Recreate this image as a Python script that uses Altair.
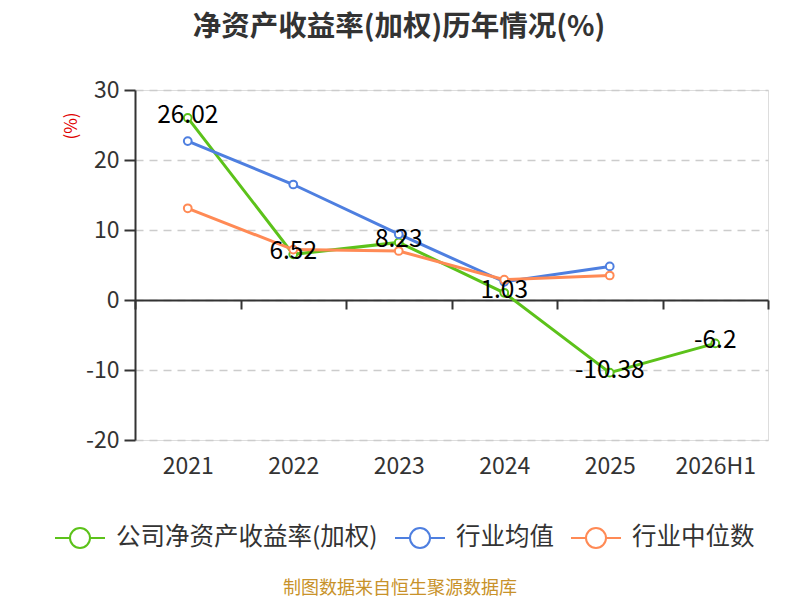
import altair as alt
import pandas as pd

FONT = "Noto Sans CJK SC"

periods = ["2021", "2022", "2023", "2024", "2025", "2026H1"]
company = [26.02, 6.52, 8.23, 1.03, -10.38, -6.2]
ind_avg = [22.7, 16.5, 9.4, 2.6, 4.8, None]
ind_med = [13.1, 7.2, 7.0, 2.9, 3.5, None]

names = ["公司净资产收益率(加权)", "行业均值", "行业中位数"]
colors = ["#5cc21a", "#4e7fe0", "#ff8a55"]

title_text = "净资产收益率(加权)历年情况(%)"
unit_text = "(%)"
source_text = "制图数据来自恒生聚源数据库"

rows = []
for name, vals in zip(names, [company, ind_avg, ind_med]):
    for p, v in zip(periods, vals):
        if v is not None:
            rows.append({"period": p, "value": v, "series": name})
df = pd.DataFrame(rows)
df_comp = df[df["series"] == names[0]].copy()
df_comp["label"] = df_comp["value"].map(lambda v: f"{v:g}")

legend_path = ("M-1,0 L-0.4,0 M0.4,0 L1,0 "
               "M-0.4,0 A0.4,0.4 0 1,1 0.4,0 A0.4,0.4 0 1,1 -0.4,0")

x_enc = alt.X(
    "period:O",
    sort=periods,
    scale=alt.Scale(type="band", paddingInner=0, paddingOuter=0, domain=periods),
    bandPosition=0.5,
    axis=alt.Axis(
        title=None, offset=-140, tickBand="extent", tickSize=9, tickWidth=2,
        tickColor="#333333", domainColor="#333333", domainWidth=2,
        labelFontSize=23, labelColor="#333333", labelPadding=146,
        labelFont=FONT, labelAngle=0, grid=False,
    ),
)
y_enc = alt.Y(
    "value:Q",
    scale=alt.Scale(domain=[-20, 30], nice=False),
    axis=alt.Axis(
        title=None, values=[-20, -10, 0, 10, 20, 30], tickSize=11, tickWidth=2,
        tickColor="#333333", domainColor="#333333", domainWidth=2,
        labelFontSize=23, labelColor="#333333", labelPadding=5, labelFont=FONT,
        labelExpr="'' + datum.value",
        grid=True, gridDash=[8, 6], gridColor="#cccccc", gridWidth=1.5,
    ),
)
color_enc = alt.Color(
    "series:N",
    sort=names,
    scale=alt.Scale(domain=names, range=colors),
    legend=alt.Legend(
        title=None, orient="none", direction="horizontal",
        legendX=-81, legendY=422,
        symbolType=legend_path, symbolSize=2500, symbolStrokeWidth=2,
        symbolFillColor="white", labelFontSize=24.5, labelColor="#333333",
        labelFont=FONT, labelOffset=10, columnPadding=13, labelLimit=400,
    ),
)

base = alt.Chart(df).encode(x=x_enc, y=y_enc, color=color_enc)
lines = base.mark_line(strokeWidth=3)
points = base.mark_point(filled=False, fill="white", size=60, strokeWidth=2, opacity=1, shape="circle")

labels = alt.Chart(df_comp).mark_text(
    fontSize=24.5, font=FONT, color="#000000", baseline="middle", dy=-2
).encode(x=x_enc, y=y_enc, text="label:N")

title = alt.Chart(pd.DataFrame({"t": [title_text]})).mark_text(
    fontSize=28.5, fontWeight="bold", font=FONT, color="#333333", align="center", baseline="middle"
).encode(text="t:N", x=alt.value(264), y=alt.value(-63))

unit = alt.Chart(pd.DataFrame({"t": [unit_text]})).mark_text(
    fontSize=17, font=FONT, color="#e00000", angle=270, align="center", baseline="middle"
).encode(text="t:N", x=alt.value(-63), y=alt.value(36))

source = alt.Chart(pd.DataFrame({"t": [source_text]})).mark_text(
    fontSize=18, font=FONT, color="#c8922a", align="center", baseline="middle"
).encode(text="t:N", x=alt.value(265), y=alt.value(499))

chart = alt.layer(lines, points, labels, title, unit, source).properties(
    width=633, height=350,
    autosize=alt.AutoSizeParams(type="none"),
    padding={"left": 127, "top": 82, "right": 24, "bottom": 160},
).configure_view(strokeOpacity=0, strokeWidth=0).configure(background="white")

chart.save("out.html", embed_options={"renderer": "svg", "actions": False})
